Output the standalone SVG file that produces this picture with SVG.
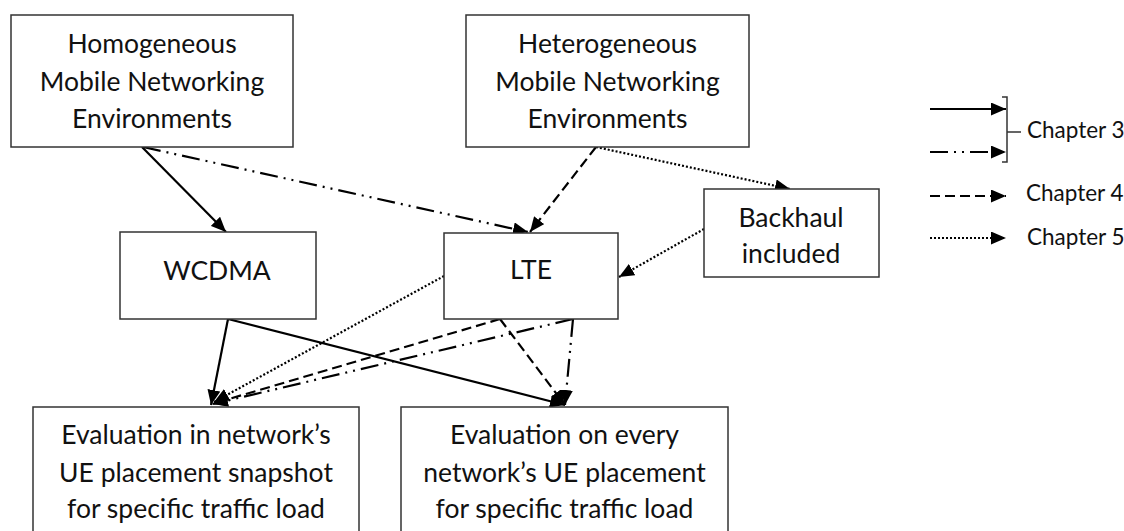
<svg xmlns="http://www.w3.org/2000/svg" width="1124" height="531" viewBox="0 0 1124 531">
  <style>
    .box { fill: #ffffff; stroke: #333333; stroke-width: 1.5; }
    .lbl { font-family: Lato, "Liberation Sans", sans-serif; font-size: 26.5px; fill: #111111; text-anchor: middle; }
    .leg { font-family: Lato, "Liberation Sans", sans-serif; font-size: 22.5px; fill: #111111; }
    .ln { fill: none; stroke: #000000; stroke-width: 2.2; }
    .dash { stroke-dasharray: 10 5; }
    .dashdot { stroke-dasharray: 18 6 2 6 2 6; }
    .dot { stroke-dasharray: 2 2; }
  </style>
  <defs>
    <marker id="arrow" viewBox="0 0 15 13" refX="15" refY="6.5" markerWidth="15" markerHeight="13" markerUnits="userSpaceOnUse" orient="auto">
      <path d="M0,0 L15,6.5 L0,13 Z" fill="#000000"/>
    </marker>
  </defs>

  <rect width="1124" height="531" fill="#ffffff"/>

  <!-- connectors -->
  <g id="connectors" marker-end="url(#arrow)">
    <line class="ln" x1="142" y1="147" x2="226" y2="232"/>
    <line class="ln dashdot" x1="143" y1="147" x2="528" y2="232"/>
    <line class="ln dash" x1="596" y1="147" x2="530" y2="232"/>
    <line class="ln dot" x1="596" y1="147" x2="790" y2="189"/>
    <line class="ln dot" x1="704" y1="229" x2="619" y2="277"/>
    <line class="ln" x1="228" y1="319" x2="211" y2="405"/>
    <line class="ln" x1="228" y1="319" x2="565" y2="405"/>
    <line class="ln dot" x1="444" y1="276" x2="214" y2="402"/>
    <line class="ln dash" x1="500" y1="319" x2="212" y2="404"/>
    <line class="ln dashdot" x1="573" y1="319" x2="213" y2="404"/>
    <line class="ln dash" x1="500" y1="319" x2="565" y2="405"/>
    <line class="ln dashdot" x1="573" y1="319" x2="565" y2="405"/>
  </g>

  <g id="homogeneous">
    <rect class="box" x="11" y="15" width="282" height="132"/>
    <text class="lbl" x="152" y="53">Homogeneous</text>
    <text class="lbl" x="152" y="91">Mobile Networking</text>
    <text class="lbl" x="152" y="128">Environments</text>
  </g>

  <g id="heterogeneous">
    <rect class="box" x="466" y="15" width="283" height="132"/>
    <text class="lbl" x="607.5" y="53">Heterogeneous</text>
    <text class="lbl" x="607.5" y="91">Mobile Networking</text>
    <text class="lbl" x="607.5" y="128">Environments</text>
  </g>

  <g id="wcdma">
    <rect class="box" x="120" y="232" width="196" height="87"/>
    <text class="lbl" x="217" y="280">WCDMA</text>
  </g>

  <g id="lte">
    <rect class="box" x="444" y="233" width="174" height="86"/>
    <text class="lbl" x="531" y="279">LTE</text>
  </g>

  <g id="backhaul">
    <rect class="box" x="704" y="189" width="175" height="88"/>
    <text class="lbl" x="791" y="227">Backhaul</text>
    <text class="lbl" x="791" y="263">included</text>
  </g>

  <g id="eval-snapshot">
    <rect class="box" x="33" y="407" width="326" height="140"/>
    <text class="lbl" x="196" y="444">Evaluation in network’s</text>
    <text class="lbl" x="196" y="482">UE placement snapshot</text>
    <text class="lbl" x="196" y="518">for specific traffic load</text>
  </g>

  <g id="eval-every">
    <rect class="box" x="401" y="407" width="327" height="140"/>
    <text class="lbl" x="564.5" y="444">Evaluation on every</text>
    <text class="lbl" x="564.5" y="482">network’s UE placement</text>
    <text class="lbl" x="564.5" y="518">for specific traffic load</text>
  </g>

  <!-- legend -->
  <g id="legend">
    <g marker-end="url(#arrow)">
      <line class="ln" x1="930" y1="109" x2="1006" y2="109"/>
      <line class="ln dashdot" x1="930" y1="152" x2="1006" y2="152"/>
      <line class="ln dash" x1="930" y1="196" x2="1006" y2="196"/>
      <line class="ln dot" x1="930" y1="238" x2="1006" y2="238"/>
    </g>
    <path d="M1002,97 H1007 V162 H1002 M1007,132 H1021" fill="none" stroke="#333333" stroke-width="1.5"/>
    <text class="leg" x="1027" y="138">Chapter 3</text>
    <text class="leg" x="1026" y="201">Chapter 4</text>
    <text class="leg" x="1027" y="245">Chapter 5</text>
  </g>
</svg>
